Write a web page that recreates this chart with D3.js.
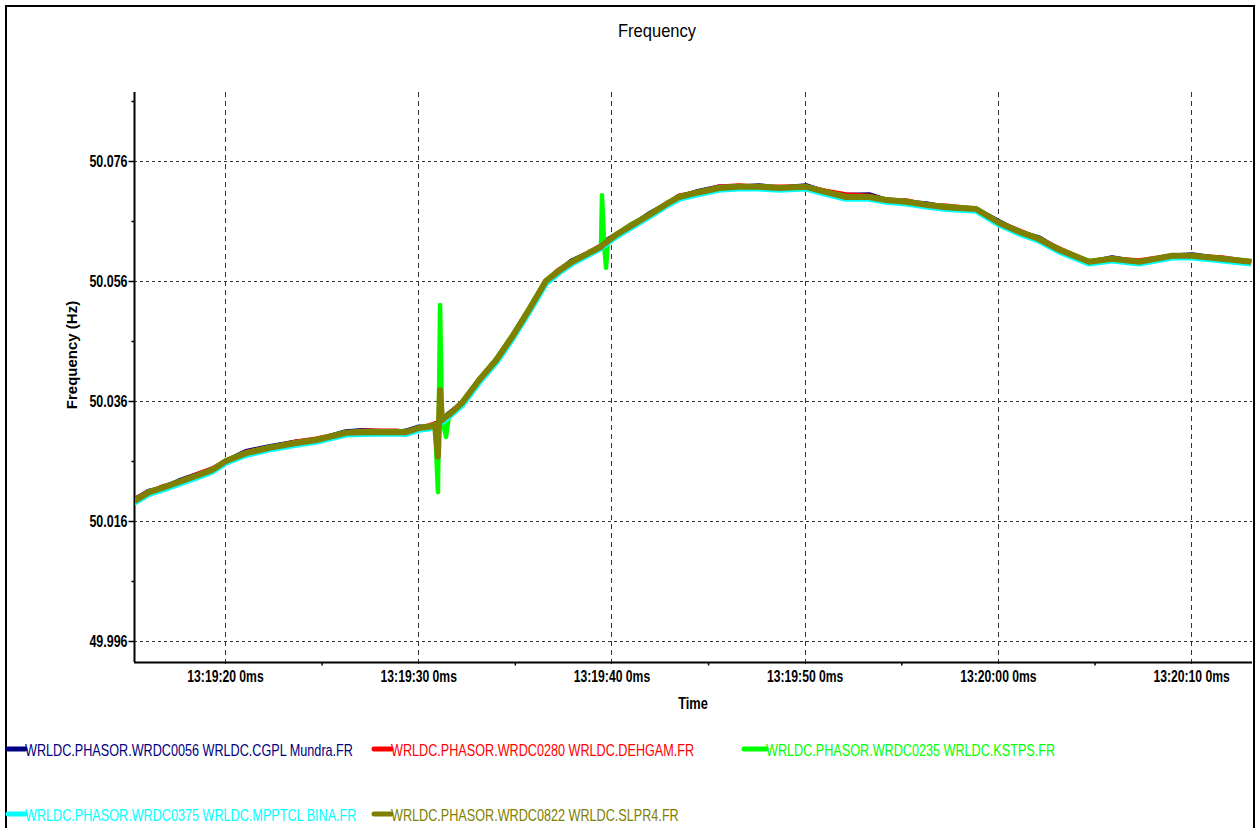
<!DOCTYPE html>
<html>
<head>
<meta charset="utf-8">
<script src="https://cdn.jsdelivr.net/npm/d3@7"></script>
<style>
    body { margin: 0; background: #fff; }
    svg { display: block; font-family: "Liberation Sans", Arial, sans-serif; }
</style>
</head>
<body>
<div id="chart"></div>
<script>
// seconds after 13:19:00
const seconds = [15.29, 16.07, 16.74, 17.62, 18.50, 19.33, 20.05, 21.09, 22.28, 23.67, 24.71, 26.26, 27.09, 28.85, 29.37, 30.04, 30.56,
    30.87, 31.02, 31.13, 31.23, 31.44, 31.59,
    32.27, 33.15, 34.03, 34.86, 35.73, 36.61, 37.29, 37.96, 38.84,
    39.46, 39.51, 39.62, 39.72, 39.82,
    40.24, 41.07, 41.95, 42.83, 43.50, 44.53, 45.57, 46.60, 47.64, 48.68, 50.07, 51.11, 52.14, 53.33, 54.21, 55.25, 56.28, 57.32,
    58.87, 60.06, 61.10, 62.13, 63.17, 64.72, 65.91, 67.31, 69.02, 70.05, 71.60, 73.11];

const mundra = [50.0194, 50.0209, 50.0214, 50.0226, 50.0236, 50.0244, 50.0259, 50.0275, 50.0283, 50.0291, 50.0294, 50.0308, 50.0310, 50.0307, 50.0309, 50.0316, 50.0316,
    50.0321, 50.0323, 50.0325, 50.0327, 50.0333, 50.0338,
    50.0355, 50.0393, 50.0427, 50.0465, 50.0511, 50.0558, 50.0576, 50.0593, 50.0606,
    50.0616, 50.0618, 50.0621, 50.0625, 50.0628,
    50.0636, 50.0652, 50.0671, 50.0687, 50.0699, 50.0709, 50.0716, 50.0716, 50.0718, 50.0714, 50.0718, 50.0707, 50.0702, 50.0703, 50.0694, 50.0691, 50.0688, 50.0682, 50.0679,
    50.0658, 50.0641, 50.0631, 50.0611, 50.0590, 50.0598, 50.0590, 50.0601, 50.0603, 50.0596, 50.0591];

const dehgam = [50.0195, 50.0207, 50.0216, 50.0224, 50.0236, 50.0246, 50.0258, 50.0274, 50.0281, 50.0291, 50.0296, 50.0306, 50.0309, 50.0309, 50.0307, 50.0314, 50.0318,
    50.0321, 50.0322, 50.0326, 50.0328, 50.0332, 50.0336,
    50.0356, 50.0394, 50.0426, 50.0466, 50.0510, 50.0559, 50.0578, 50.0591, 50.0606,
    50.0618, 50.0620, 50.0621, 50.0623, 50.0626,
    50.0636, 50.0654, 50.0669, 50.0687, 50.0701, 50.0707, 50.0716, 50.0718, 50.0716, 50.0716, 50.0716, 50.0709, 50.0703, 50.0701, 50.0694, 50.0693, 50.0686, 50.0684, 50.0679,
    50.0656, 50.0643, 50.0629, 50.0613, 50.0591, 50.0596, 50.0593, 50.0601, 50.0601, 50.0598, 50.0591];

const kstps = [50.0192, 50.0209, 50.0216, 50.0226, 50.0235, 50.0246, 50.0261, 50.0274, 50.0283, 50.0291, 50.0296, 50.0308, 50.0309, 50.0309, 50.0309, 50.0316, 50.0318,
    50.0321, 50.0208, 50.0520, 50.0330, 50.0300, 50.0336,
    50.0358, 50.0396, 50.0430, 50.0469, 50.0514, 50.0561, 50.0578, 50.0593, 50.0608,
    50.0618, 50.0703, 50.0621, 50.0582, 50.0628,
    50.0638, 50.0655, 50.0671, 50.0689, 50.0701, 50.0709, 50.0716, 50.0718, 50.0718, 50.0716, 50.0717, 50.0709, 50.0701, 50.0701, 50.0696, 50.0693, 50.0688, 50.0684, 50.0681,
    50.0658, 50.0643, 50.0631, 50.0613, 50.0593, 50.0598, 50.0591, 50.0603, 50.0602, 50.0598, 50.0593];

const bina = [50.0190, 50.0205, 50.0212, 50.0222, 50.0232, 50.0242, 50.0257, 50.0270, 50.0279, 50.0287, 50.0292, 50.0304, 50.0305, 50.0306, 50.0305, 50.0312, 50.0314,
    50.0318, 50.0320, 50.0323, 50.0325, 50.0330, 50.0334,
    50.0353, 50.0391, 50.0424, 50.0463, 50.0508, 50.0556, 50.0574, 50.0589, 50.0604,
    50.0615, 50.0617, 50.0619, 50.0621, 50.0624,
    50.0634, 50.0650, 50.0667, 50.0685, 50.0697, 50.0705, 50.0712, 50.0714, 50.0714, 50.0712, 50.0714, 50.0705, 50.0697, 50.0697, 50.0692, 50.0689, 50.0684, 50.0680, 50.0677,
    50.0654, 50.0639, 50.0627, 50.0609, 50.0589, 50.0594, 50.0589, 50.0599, 50.0599, 50.0594, 50.0589];

const slpr4 = [50.0193, 50.0208, 50.0215, 50.0225, 50.0235, 50.0245, 50.0260, 50.0273, 50.0282, 50.0290, 50.0295, 50.0307, 50.0308, 50.0308, 50.0308, 50.0315, 50.0317,
    50.0320, 50.0267, 50.0378, 50.0328, 50.0334, 50.0337,
    50.0357, 50.0395, 50.0428, 50.0467, 50.0512, 50.0560, 50.0577, 50.0592, 50.0607,
    50.0617, 50.0619, 50.0622, 50.0624, 50.0627,
    50.0637, 50.0653, 50.0670, 50.0688, 50.0700, 50.0708, 50.0715, 50.0717, 50.0717, 50.0715, 50.0717, 50.0708, 50.0700, 50.0700, 50.0695, 50.0692, 50.0687, 50.0683, 50.0680,
    50.0657, 50.0642, 50.0630, 50.0612, 50.0592, 50.0597, 50.0592, 50.0602, 50.0602, 50.0597, 50.0592];

const seriesNames = [
    "WRLDC.PHASOR.WRDC0056 WRLDC.CGPL Mundra.FR",
    "WRLDC.PHASOR.WRDC0280 WRLDC.DEHGAM.FR",
    "WRLDC.PHASOR.WRDC0235 WRLDC.KSTPS.FR",
    "WRLDC.PHASOR.WRDC0375 WRLDC.MPPTCL BINA.FR",
    "WRLDC.PHASOR.WRDC0822 WRLDC.SLPR4.FR"
];
const seriesValues = [mundra, dehgam, kstps, bina, slpr4];
const seriesColors = ["#000080", "#ff0000", "#00ff00", "#00ffff", "#808000"];

const yTicks = [49.996, 50.016, 50.036, 50.056, 50.076];
const yMinorTicks = [50.006, 50.026, 50.046, 50.066, 50.086];

const W = 1257, H = 828;
const plot = { left: 134, right: 1252, top: 92, bottom: 662 };
const base = new Date(2000, 0, 1, 13, 19, 0);
const toDate = s => new Date(base.getTime() + s * 1000);

// squeeze text horizontally (the original uses a narrow face)
function squeeze(sel, factor) {
    sel.each(function () {
        const t = d3.select(this);
        const x0 = +t.attr("x") || 0;
        t.attr("x", x0 / factor)
            .attr("transform", `scale(${factor},1)`);
    });
}

const svg = d3.select("#chart").append("svg")
    .attr("width", W)
    .attr("height", H);

// outer frame
svg.append("rect")
    .attr("x", 6).attr("y", 6)
    .attr("width", 1248).attr("height", 840)
    .attr("fill", "none")
    .attr("stroke", "#000")
    .attr("stroke-width", 2);

// Scales
const x = d3.scaleTime()
    .domain([toDate(15.29), toDate(73.15)])
    .range([plot.left, plot.right]);

const y = d3.scaleLinear()
    .domain([49.9925, 50.0875])
    .range([plot.bottom, plot.top]);

// Grid
const majorX = d3.timeSecond.every(10).range(toDate(15.29), toDate(73.16));
const minorX = d3.timeSecond.every(5).range(toDate(15.29), toDate(73.16)).filter(d => d.getSeconds() % 10 === 5);

svg.append("g")
    .selectAll("line")
    .data(yTicks)
    .enter()
    .append("line")
    .attr("x1", plot.left)
    .attr("x2", plot.right)
    .attr("y1", d => Math.round(y(d)) + 0.5)
    .attr("y2", d => Math.round(y(d)) + 0.5)
    .attr("stroke", "#333")
    .attr("stroke-dasharray", "3,3");

svg.append("g")
    .selectAll("line")
    .data(majorX)
    .enter()
    .append("line")
    .attr("x1", d => Math.round(x(d)) + 0.5)
    .attr("x2", d => Math.round(x(d)) + 0.5)
    .attr("y1", plot.top)
    .attr("y2", plot.bottom + 4)
    .attr("stroke", "#333")
    .attr("stroke-dasharray", "5,4");

// Axes
const yAxis = svg.append("g")
    .attr("transform", `translate(${plot.left + 0.5},0)`)
    .call(d3.axisLeft(y).tickValues(yTicks).tickSize(6).tickPadding(1).tickFormat(d3.format(".3f")));

svg.append("g")
    .attr("transform", `translate(${plot.left + 0.5},0)`)
    .call(d3.axisLeft(y).tickValues(yMinorTicks).tickSize(3).tickFormat(""))
    .select(".domain").remove();

const xAxis = svg.append("g")
    .attr("transform", `translate(0,${plot.bottom + 0.5})`)
    .call(d3.axisBottom(x).tickValues(majorX).tickSize(0).tickPadding(8)
        .tickFormat(d => d3.timeFormat("%H:%M:%S")(d) + " 0ms"));

svg.append("g")
    .attr("transform", `translate(0,${plot.bottom + 0.5})`)
    .call(d3.axisBottom(x).tickValues(minorX).tickSize(3).tickFormat(""))
    .select(".domain").remove();

svg.selectAll(".domain")
    .attr("stroke", "#000")
    .attr("stroke-width", 2);
yAxis.select(".domain").attr("d", `M0,${plot.top}V${plot.bottom}`);
xAxis.select(".domain").attr("d", `M${plot.left},0H${plot.right}`);

svg.selectAll(".tick line").attr("stroke", "#000").attr("stroke-width", 1.5);
svg.selectAll(".tick text")
    .attr("font-family", null)
    .attr("font-size", null)
    .style("font-size", "16px")
    .style("font-weight", "bold")
    .attr("fill", "#000");
squeeze(yAxis.selectAll(".tick text"), 0.78);
squeeze(xAxis.selectAll(".tick text"), 0.76);

// Lines
svg.append("clipPath")
    .attr("id", "clip")
    .append("rect")
    .attr("x", plot.left + 1).attr("y", plot.top)
    .attr("width", plot.right - plot.left - 1)
    .attr("height", plot.bottom - plot.top - 1);

const line = d3.line()
    .x(d => x(d[0]))
    .y(d => y(d[1]));

const lines = svg.append("g").attr("clip-path", "url(#clip)");
seriesValues.forEach((vals, i) => {
    lines.append("path")
        .datum(seconds.map((s, j) => [toDate(s), vals[j]]))
        .attr("fill", "none")
        .attr("stroke", seriesColors[i])
        .attr("stroke-width", i === 2 ? 4.5 : 6)
        .attr("stroke-linejoin", "round")
        .attr("d", line);
});

// Title
svg.append("text")
    .attr("x", 657)
    .attr("y", 37)
    .attr("text-anchor", "middle")
    .style("font-size", "18px")
    .text("Frequency")
    .call(squeeze, 0.92);

// Axis labels
svg.append("text")
    .attr("transform", "rotate(-90)")
    .attr("x", -355)
    .attr("y", 77)
    .attr("text-anchor", "middle")
    .style("font-size", "15px")
    .style("font-weight", "bold")
    .text("Frequency (Hz)");

svg.append("text")
    .attr("x", 693)
    .attr("y", 709)
    .attr("text-anchor", "middle")
    .style("font-size", "16px")
    .style("font-weight", "bold")
    .text("Time")
    .call(squeeze, 0.8);

// Legend
const legendPos = [[8, 749], [374, 749], [744, 749], [8, 814], [374, 814]];
const legend = svg.append("g");
seriesNames.forEach((name, i) => {
    const [lx, ly] = legendPos[i];
    const markLen = i === 2 ? 22 : 17;
    legend.append("line")
        .attr("x1", lx).attr("x2", lx + markLen)
        .attr("y1", ly).attr("y2", ly)
        .attr("stroke", seriesColors[i])
        .attr("stroke-width", 5)
        .attr("stroke-linecap", "round");
    legend.append("text")
        .attr("x", lx + markLen)
        .attr("y", ly + 7)
        .style("font-size", "16px")
        .attr("fill", seriesColors[i])
        .text(name)
        .call(squeeze, 0.79);
});
</script>
</body>
</html>
